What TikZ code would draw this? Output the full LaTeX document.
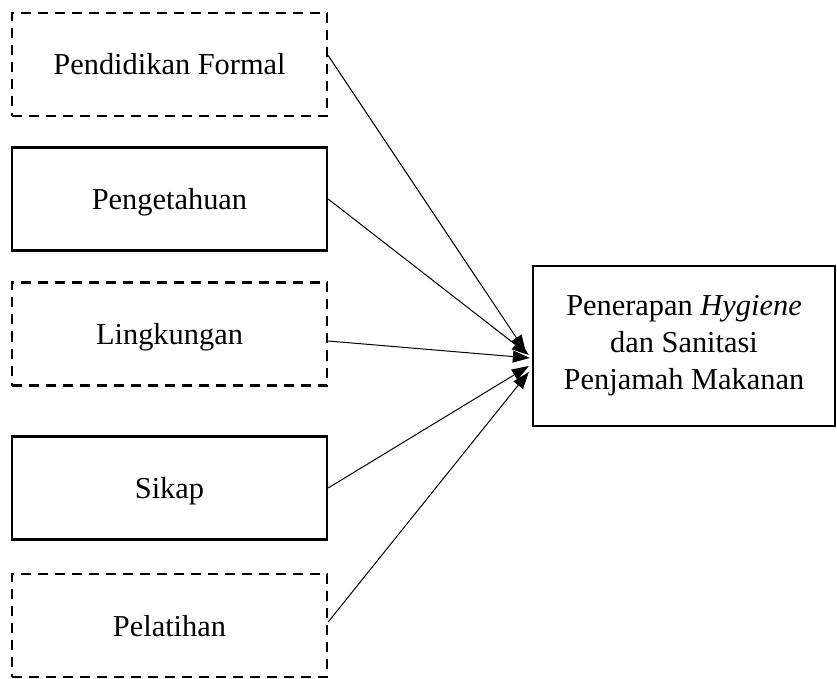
\documentclass[tikz,border=0pt]{standalone}
\usepackage{fontspec}
\setmainfont{Liberation Serif}
\usetikzlibrary{arrows.meta}
\begin{document}
\begin{tikzpicture}[x=1pt,y=1pt,
  box/.style={draw=black,line width=2.3pt,minimum width=315pt,minimum height=103pt,inner sep=0pt,
    font=\fontsize{30.4}{37}\selectfont},
  lbox/.style={box,text height=27pt,text depth=6pt},
  dbox/.style={lbox,dash pattern=on 10pt off 7pt},
  arr/.style={line width=1pt,-{Triangle[length=17pt,width=12pt]}}]
\useasboundingbox (0,0) rectangle (837,678);
\node[dbox] (p1) at (169.5,613.5) {Pendidikan Formal};
\node[lbox] (p2) at (169.5,479) {Pengetahuan};
\node[dbox] (p3) at (169.5,344) {Lingkungan};
\node[lbox] (p4) at (169.5,190) {Sikap};
\node[dbox] (p5) at (169.5,52.5) {Pelatihan};
\node[box,minimum width=302pt,minimum height=160pt,align=center] (t) at (684,332)
  {Penerapan \textit{Hygiene}\\dan Sanitasi\\Penjamah Makanan};
\draw[arr] ([yshift=9pt]p1.east) -- ([xshift=-6pt,yshift=-6pt]t.west);
\draw[arr] (p2.east) -- ([xshift=-3pt,yshift=-9pt]t.west);
\draw[arr] ([yshift=-7pt]p3.east) -- ([xshift=-2pt,yshift=-12pt]t.west);
\draw[arr] (p4.east) -- ([xshift=-3pt,yshift=-20pt]t.west);
\draw[arr] ([yshift=3.5pt]p5.east) -- ([xshift=-3pt,yshift=-26pt]t.west);
\end{tikzpicture}
\end{document}
